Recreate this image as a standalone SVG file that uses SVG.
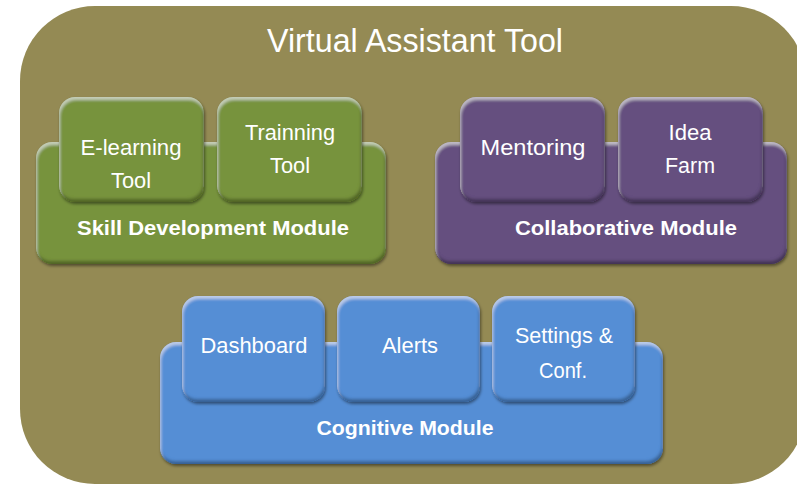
<svg xmlns="http://www.w3.org/2000/svg" width="797" height="484" viewBox="0 0 797 484">
<defs>
<filter id="bevel" x="-10%" y="-10%" width="120%" height="125%">
<feGaussianBlur in="SourceAlpha" stdDeviation="1.6" result="b"/>
<feOffset in="b" dx="-1" dy="-3" result="oUp"/>
<feComposite in="SourceAlpha" in2="oUp" operator="arithmetic" k2="1" k3="-1" result="darkEdge"/>
<feFlood flood-color="#000" flood-opacity="0.55"/>
<feComposite in2="darkEdge" operator="in" result="dark"/>
<feOffset in="b" dx="1" dy="3" result="oDown"/>
<feComposite in="SourceAlpha" in2="oDown" operator="arithmetic" k2="1" k3="-1" result="lightEdge"/>
<feFlood flood-color="#fff" flood-opacity="0.45"/>
<feComposite in2="lightEdge" operator="in" result="light"/>
<feGaussianBlur in="SourceAlpha" stdDeviation="1.5" result="sb"/>
<feOffset in="sb" dx="1" dy="2" result="so"/>
<feFlood flood-color="#000" flood-opacity="0.45"/>
<feComposite in2="so" operator="in" result="drop"/>
<feMerge>
<feMergeNode in="drop"/>
<feMergeNode in="SourceGraphic"/>
<feMergeNode in="dark"/>
<feMergeNode in="light"/>
</feMerge>
</filter>
</defs>
<style>
.green{fill:#77933C;filter:url(#bevel)}
.purple{fill:#65507F;filter:url(#bevel)}
.blue{fill:#558ED5;filter:url(#bevel)}
text{font-family:"Liberation Sans",Arial,sans-serif;fill:#fff;text-anchor:middle}
.lbl{font-size:22px}
.mod{font-size:20px;font-weight:bold}
.title{font-size:33px}
</style>
<g id="background">
<rect x="20" y="6" width="786" height="478" rx="75" ry="75" fill="#948A54"/>
<text class="title" x="415" y="52" textLength="296" lengthAdjust="spacingAndGlyphs">Virtual Assistant Tool</text>
</g>
<g id="skill-development-module">
<rect class="green" x="36" y="142" width="350" height="122" rx="16"/>
<text class="mod" x="213" y="235" textLength="272" lengthAdjust="spacingAndGlyphs">Skill Development Module</text>
</g>
<g id="e-learning-tool">
<rect class="green" x="59" y="97" width="145" height="105" rx="16"/>
<text class="lbl" x="131" y="155" textLength="101" lengthAdjust="spacingAndGlyphs">E-learning</text>
<text class="lbl" x="131" y="188" textLength="40" lengthAdjust="spacingAndGlyphs">Tool</text>
</g>
<g id="trainning-tool">
<rect class="green" x="217" y="97" width="145" height="105" rx="16"/>
<text class="lbl" x="290" y="140" textLength="90" lengthAdjust="spacingAndGlyphs">Trainning</text>
<text class="lbl" x="290" y="173" textLength="40" lengthAdjust="spacingAndGlyphs">Tool</text>
</g>
<g id="collaborative-module">
<rect class="purple" x="435" y="142" width="352" height="122" rx="16"/>
<text class="mod" x="626" y="235" textLength="222" lengthAdjust="spacingAndGlyphs">Collaborative Module</text>
</g>
<g id="mentoring">
<rect class="purple" x="460" y="97" width="145" height="105" rx="16"/>
<text class="lbl" x="533" y="155" textLength="105" lengthAdjust="spacingAndGlyphs">Mentoring</text>
</g>
<g id="idea-farm">
<rect class="purple" x="618" y="97" width="145" height="105" rx="16"/>
<text class="lbl" x="690" y="140" textLength="43" lengthAdjust="spacingAndGlyphs">Idea</text>
<text class="lbl" x="690" y="173" textLength="50" lengthAdjust="spacingAndGlyphs">Farm</text>
</g>
<g id="cognitive-module">
<rect class="blue" x="160" y="342" width="503" height="122" rx="16"/>
<text class="mod" x="405" y="435" textLength="177" lengthAdjust="spacingAndGlyphs">Cognitive Module</text>
</g>
<g id="dashboard">
<rect class="blue" x="182" y="296" width="143" height="106" rx="16"/>
<text class="lbl" x="254" y="353" textLength="107" lengthAdjust="spacingAndGlyphs">Dashboard</text>
</g>
<g id="alerts">
<rect class="blue" x="337" y="296" width="143" height="106" rx="16"/>
<text class="lbl" x="410" y="353" textLength="56" lengthAdjust="spacingAndGlyphs">Alerts</text>
</g>
<g id="settings-conf">
<rect class="blue" x="492" y="296" width="143" height="106" rx="16"/>
<text class="lbl" x="564" y="343" textLength="98" lengthAdjust="spacingAndGlyphs">Settings &amp;</text>
<text class="lbl" x="563" y="378" textLength="48" lengthAdjust="spacingAndGlyphs">Conf.</text>
</g>
</svg>
